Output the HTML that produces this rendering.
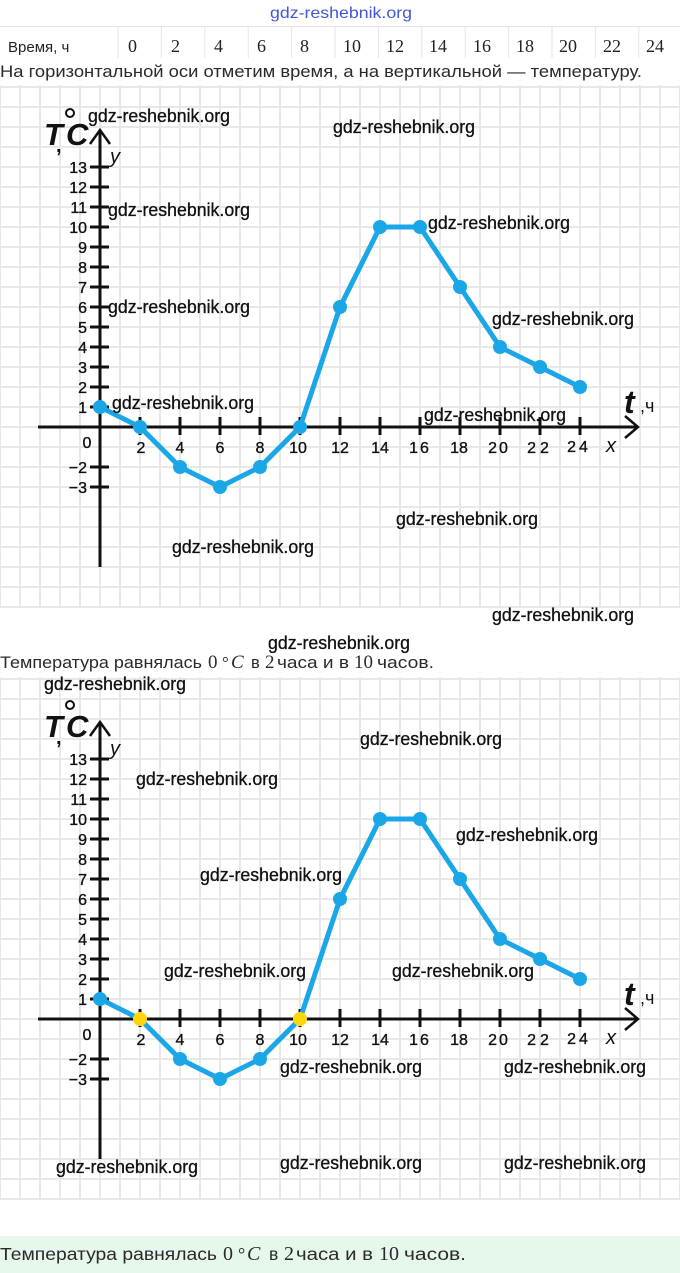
<!DOCTYPE html>
<html><head><meta charset="utf-8"><style>
html,body{margin:0;padding:0;background:#fff;}
svg{display:block;}
text{font-family:"Liberation Sans","DejaVu Sans",sans-serif;}
.sf{font-family:"Liberation Serif","DejaVu Serif",serif;}
.wm{font-size:18px;fill:#111;stroke:#111;stroke-width:0.3;}
.yl{font-size:16px;fill:#111;text-anchor:end;stroke:#111;stroke-width:0.35;}
.xl{font-size:16px;fill:#111;text-anchor:middle;stroke:#111;stroke-width:0.35;}
</style></head><body>
<svg width="680" height="1273" viewBox="0 0 680 1273" xmlns="http://www.w3.org/2000/svg">
<defs>
<pattern id="g1" x="10" y="-3" width="20" height="20" patternUnits="userSpaceOnUse">
<rect x="9" y="0" width="2" height="20" fill="#e8e8e8"/>
<rect x="0" y="9" width="20" height="2" fill="#e8e8e8"/>
</pattern>
</defs>

<!-- top watermark -->
<text x="270" y="18" font-size="16" fill="#4356d8" textLength="142" lengthAdjust="spacingAndGlyphs">gdz-reshebnik.org</text>

<!-- table row -->
<line x1="0" y1="26.5" x2="680" y2="26.5" stroke="#e2e2e2" stroke-width="1"/>
<path d="M118 27V58M161.4 27V58M204.8 27V58M248.2 27V58M291.6 27V58M335 27V58M378.4 27V58M421.8 27V58M465.2 27V58M508.6 27V58M552 27V58M595.4 27V58M638.8 27V58" stroke="#e6e6e6" stroke-width="1"/>
<text x="8" y="52" font-size="15" fill="#222">Время, ч</text>
<g class="sf" font-size="18" fill="#222">
<text class="sf" x="128" y="52">0</text>
<text class="sf" x="171" y="52">2</text>
<text class="sf" x="214" y="52">4</text>
<text class="sf" x="257" y="52">6</text>
<text class="sf" x="300" y="52">8</text>
<text class="sf" x="343" y="52">10</text>
<text class="sf" x="386" y="52">12</text>
<text class="sf" x="429" y="52">14</text>
<text class="sf" x="473" y="52">16</text>
<text class="sf" x="516" y="52">18</text>
<text class="sf" x="559" y="52">20</text>
<text class="sf" x="603" y="52">22</text>
<text class="sf" x="646" y="52">24</text>
</g>

<text x="0" y="77" font-size="17" fill="#2a2a2a" textLength="642" lengthAdjust="spacingAndGlyphs">На горизонтальной оси отметим время, а на вертикальной — температуру.</text>

<!-- GRAPH 1 -->
<g>
<rect x="0" y="85" width="680" height="523" fill="url(#g1)"/>
<g stroke="#111" fill="none" stroke-width="3">
<line x1="100" y1="567" x2="100" y2="130"/>
<polyline points="90,144 100,130 110,144" stroke-width="2.5"/>
<line x1="38" y1="427" x2="637" y2="427"/>
<polyline points="625,416 638,427 625,438" stroke-width="2.5"/>
<path d="M90 407H109M90 387H109M90 367H109M90 347H109M90 327H109M90 307H109M90 287H109M90 267H109M90 247H109M90 227H109M90 207H109M90 187H109M90 167H109M90 467H109M90 487H109"/>
<path d="M140 417V435M180 417V435M220 417V435M260 417V435M300 417V435M340 417V435M380 417V435M420 417V435M460 417V435M500 417V435M540 417V435M580 417V435"/>
</g>
<text class="yl" x="87" y="413">1</text>
<text class="yl" x="87" y="393">2</text>
<text class="yl" x="87" y="373">3</text>
<text class="yl" x="87" y="353">4</text>
<text class="yl" x="87" y="333">5</text>
<text class="yl" x="87" y="313">6</text>
<text class="yl" x="87" y="293">7</text>
<text class="yl" x="87" y="273">8</text>
<text class="yl" x="87" y="253">9</text>
<text class="yl" x="87" y="233">10</text>
<text class="yl" x="87" y="213">11</text>
<text class="yl" x="87" y="193">12</text>
<text class="yl" x="87" y="173">13</text>
<text class="yl" x="87" y="473">−2</text>
<text class="yl" x="87" y="493">−3</text>
<text class="xl" x="87" y="448">0</text>
<text class="xl" x="141" y="453">2</text>
<text class="xl" x="180" y="453">4</text>
<text class="xl" x="220" y="453">6</text>
<text class="xl" x="260" y="453">8</text>
<text class="xl" x="298" y="453">10</text>
<text class="xl" x="340" y="453">12</text>
<text class="xl" x="380" y="453">14</text>
<text class="xl" x="420" y="453" letter-spacing="2">16</text>
<text class="xl" x="459" y="453">18</text>
<text class="xl" x="499" y="453" letter-spacing="2">20</text>
<text class="xl" x="540" y="453" letter-spacing="4">22</text>
<text class="xl" x="579" y="452" letter-spacing="3">24</text>
<text x="44" y="145" font-size="31" font-weight="bold" font-style="italic" fill="#111">T</text>
<text x="56" y="152" font-size="20" font-weight="bold" fill="#111">,</text>
<text x="66" y="145" font-size="31" font-weight="bold" font-style="italic" fill="#111">C</text>
<circle cx="70" cy="113" r="4" fill="none" stroke="#111" stroke-width="2"/>
<text x="110" y="163" font-size="20" font-style="italic" fill="#111">y</text>
<text x="606" y="452" font-size="20" font-style="italic" fill="#111">x</text>
<text x="624" y="413" font-size="32" font-weight="bold" font-style="italic" fill="#111">t</text>
<text x="640" y="412" font-size="18" fill="#111">,ч</text>
<polyline points="100,407 140,427 180,467 220,487 260,467 300,427 340,307 380,227 420,227 460,287 500,347 540,367 580,387" fill="none" stroke="#1ba6e8" stroke-width="5" stroke-linejoin="round" stroke-linecap="round"/>
<g fill="#1ba6e8">
<circle cx="100" cy="407" r="7"/><circle cx="140" cy="427" r="7"/><circle cx="180" cy="467" r="7"/><circle cx="220" cy="487" r="7"/><circle cx="260" cy="467" r="7"/><circle cx="300" cy="427" r="7"/><circle cx="340" cy="307" r="7"/><circle cx="380" cy="227" r="7"/><circle cx="420" cy="227" r="7"/><circle cx="460" cy="287" r="7"/><circle cx="500" cy="347" r="7"/><circle cx="540" cy="367" r="7"/><circle cx="580" cy="387" r="7"/>
</g>
</g>

<!-- watermarks graph 1 -->
<text class="wm" x="88" y="122" textLength="142" lengthAdjust="spacingAndGlyphs">gdz-reshebnik.org</text>
<text class="wm" x="333" y="133" textLength="142" lengthAdjust="spacingAndGlyphs">gdz-reshebnik.org</text>
<text class="wm" x="108" y="216" textLength="142" lengthAdjust="spacingAndGlyphs">gdz-reshebnik.org</text>
<text class="wm" x="428" y="229" textLength="142" lengthAdjust="spacingAndGlyphs">gdz-reshebnik.org</text>
<text class="wm" x="108" y="313" textLength="142" lengthAdjust="spacingAndGlyphs">gdz-reshebnik.org</text>
<text class="wm" x="492" y="325" textLength="142" lengthAdjust="spacingAndGlyphs">gdz-reshebnik.org</text>
<text class="wm" x="112" y="409" textLength="142" lengthAdjust="spacingAndGlyphs">gdz-reshebnik.org</text>
<text class="wm" x="424" y="421" textLength="142" lengthAdjust="spacingAndGlyphs">gdz-reshebnik.org</text>
<text class="wm" x="396" y="525" textLength="142" lengthAdjust="spacingAndGlyphs">gdz-reshebnik.org</text>
<text class="wm" x="172" y="553" textLength="142" lengthAdjust="spacingAndGlyphs">gdz-reshebnik.org</text>
<text class="wm" x="492" y="621" textLength="142" lengthAdjust="spacingAndGlyphs">gdz-reshebnik.org</text>
<text class="wm" x="268" y="649" textLength="142" lengthAdjust="spacingAndGlyphs">gdz-reshebnik.org</text>

<!-- middle sentence -->
<text x="0" y="668" font-size="16.5" fill="#2a2a2a" textLength="202" lengthAdjust="spacingAndGlyphs">Температура равнялась</text>
<text class="sf" x="208" y="668" font-size="19" fill="#2a2a2a">0</text>
<text class="sf" x="222" y="668" font-size="17" fill="#2a2a2a">°</text>
<text class="sf" x="231" y="668" font-size="19" font-style="italic" fill="#2a2a2a">C</text>
<text x="251" y="668" font-size="16.5" fill="#2a2a2a">в</text>
<text class="sf" x="265" y="668" font-size="19" fill="#2a2a2a">2</text>
<text x="277" y="668" font-size="16.5" fill="#2a2a2a" textLength="72" lengthAdjust="spacingAndGlyphs">часа и в</text>
<text class="sf" x="354" y="668" font-size="19" fill="#2a2a2a">10</text>
<text x="377" y="668" font-size="16.5" fill="#2a2a2a" textLength="57" lengthAdjust="spacingAndGlyphs">часов.</text>

<!-- GRAPH 2 -->
<g transform="translate(0,592)">
<rect x="0" y="85" width="680" height="523" fill="url(#g1)"/>
<g stroke="#111" fill="none" stroke-width="3">
<line x1="100" y1="567" x2="100" y2="130"/>
<polyline points="90,144 100,130 110,144" stroke-width="2.5"/>
<line x1="38" y1="427" x2="637" y2="427"/>
<polyline points="625,416 638,427 625,438" stroke-width="2.5"/>
<path d="M90 407H109M90 387H109M90 367H109M90 347H109M90 327H109M90 307H109M90 287H109M90 267H109M90 247H109M90 227H109M90 207H109M90 187H109M90 167H109M90 467H109M90 487H109"/>
<path d="M140 417V435M180 417V435M220 417V435M260 417V435M300 417V435M340 417V435M380 417V435M420 417V435M460 417V435M500 417V435M540 417V435M580 417V435"/>
</g>
<text class="yl" x="87" y="413">1</text>
<text class="yl" x="87" y="393">2</text>
<text class="yl" x="87" y="373">3</text>
<text class="yl" x="87" y="353">4</text>
<text class="yl" x="87" y="333">5</text>
<text class="yl" x="87" y="313">6</text>
<text class="yl" x="87" y="293">7</text>
<text class="yl" x="87" y="273">8</text>
<text class="yl" x="87" y="253">9</text>
<text class="yl" x="87" y="233">10</text>
<text class="yl" x="87" y="213">11</text>
<text class="yl" x="87" y="193">12</text>
<text class="yl" x="87" y="173">13</text>
<text class="yl" x="87" y="473">−2</text>
<text class="yl" x="87" y="493">−3</text>
<text class="xl" x="87" y="448">0</text>
<text class="xl" x="141" y="453">2</text>
<text class="xl" x="180" y="453">4</text>
<text class="xl" x="220" y="453">6</text>
<text class="xl" x="260" y="453">8</text>
<text class="xl" x="298" y="453">10</text>
<text class="xl" x="340" y="453">12</text>
<text class="xl" x="380" y="453">14</text>
<text class="xl" x="420" y="453" letter-spacing="2">16</text>
<text class="xl" x="459" y="453">18</text>
<text class="xl" x="499" y="453" letter-spacing="2">20</text>
<text class="xl" x="540" y="453" letter-spacing="4">22</text>
<text class="xl" x="579" y="452" letter-spacing="3">24</text>
<text x="44" y="145" font-size="31" font-weight="bold" font-style="italic" fill="#111">T</text>
<text x="56" y="152" font-size="20" font-weight="bold" fill="#111">,</text>
<text x="66" y="145" font-size="31" font-weight="bold" font-style="italic" fill="#111">C</text>
<circle cx="70" cy="113" r="4" fill="none" stroke="#111" stroke-width="2"/>
<text x="110" y="163" font-size="20" font-style="italic" fill="#111">y</text>
<text x="606" y="452" font-size="20" font-style="italic" fill="#111">x</text>
<text x="624" y="413" font-size="32" font-weight="bold" font-style="italic" fill="#111">t</text>
<text x="640" y="412" font-size="18" fill="#111">,ч</text>
<polyline points="100,407 140,427 180,467 220,487 260,467 300,427 340,307 380,227 420,227 460,287 500,347 540,367 580,387" fill="none" stroke="#1ba6e8" stroke-width="5" stroke-linejoin="round" stroke-linecap="round"/>
<g fill="#1ba6e8">
<circle cx="100" cy="407" r="7"/><circle cx="180" cy="467" r="7"/><circle cx="220" cy="487" r="7"/><circle cx="260" cy="467" r="7"/><circle cx="340" cy="307" r="7"/><circle cx="380" cy="227" r="7"/><circle cx="420" cy="227" r="7"/><circle cx="460" cy="287" r="7"/><circle cx="500" cy="347" r="7"/><circle cx="540" cy="367" r="7"/><circle cx="580" cy="387" r="7"/>
</g>
<g fill="#ffd60a">
<circle cx="140" cy="427" r="7"/><circle cx="300" cy="427" r="7"/>
</g>
</g>

<!-- watermarks graph 2 -->
<text class="wm" x="44" y="690" textLength="142" lengthAdjust="spacingAndGlyphs">gdz-reshebnik.org</text>
<text class="wm" x="360" y="745" textLength="142" lengthAdjust="spacingAndGlyphs">gdz-reshebnik.org</text>
<text class="wm" x="136" y="785" textLength="142" lengthAdjust="spacingAndGlyphs">gdz-reshebnik.org</text>
<text class="wm" x="456" y="841" textLength="142" lengthAdjust="spacingAndGlyphs">gdz-reshebnik.org</text>
<text class="wm" x="200" y="881" textLength="142" lengthAdjust="spacingAndGlyphs">gdz-reshebnik.org</text>
<text class="wm" x="164" y="977" textLength="142" lengthAdjust="spacingAndGlyphs">gdz-reshebnik.org</text>
<text class="wm" x="392" y="977" textLength="142" lengthAdjust="spacingAndGlyphs">gdz-reshebnik.org</text>
<text class="wm" x="280" y="1073" textLength="142" lengthAdjust="spacingAndGlyphs">gdz-reshebnik.org</text>
<text class="wm" x="504" y="1073" textLength="142" lengthAdjust="spacingAndGlyphs">gdz-reshebnik.org</text>
<text class="wm" x="56" y="1173" textLength="142" lengthAdjust="spacingAndGlyphs">gdz-reshebnik.org</text>
<text class="wm" x="280" y="1169" textLength="142" lengthAdjust="spacingAndGlyphs">gdz-reshebnik.org</text>
<text class="wm" x="504" y="1169" textLength="142" lengthAdjust="spacingAndGlyphs">gdz-reshebnik.org</text>

<!-- bottom answer box -->
<rect x="0" y="1236" width="680" height="37" fill="#e6f8ec"/>
<text x="0" y="1260" font-size="17.5" fill="#2a2a2a" textLength="217" lengthAdjust="spacingAndGlyphs">Температура равнялась</text>
<text class="sf" x="223" y="1260" font-size="20" fill="#2a2a2a">0</text>
<text class="sf" x="238" y="1260" font-size="18" fill="#2a2a2a">°</text>
<text class="sf" x="247" y="1260" font-size="20" font-style="italic" fill="#2a2a2a">C</text>
<text x="269" y="1260" font-size="17.5" fill="#2a2a2a">в</text>
<text class="sf" x="284" y="1260" font-size="20" fill="#2a2a2a">2</text>
<text x="296" y="1260" font-size="17.5" fill="#2a2a2a" textLength="77" lengthAdjust="spacingAndGlyphs">часа и в</text>
<text class="sf" x="379" y="1260" font-size="20" fill="#2a2a2a">10</text>
<text x="404" y="1260" font-size="17.5" fill="#2a2a2a" textLength="62" lengthAdjust="spacingAndGlyphs">часов.</text>
</svg>
</body></html>
